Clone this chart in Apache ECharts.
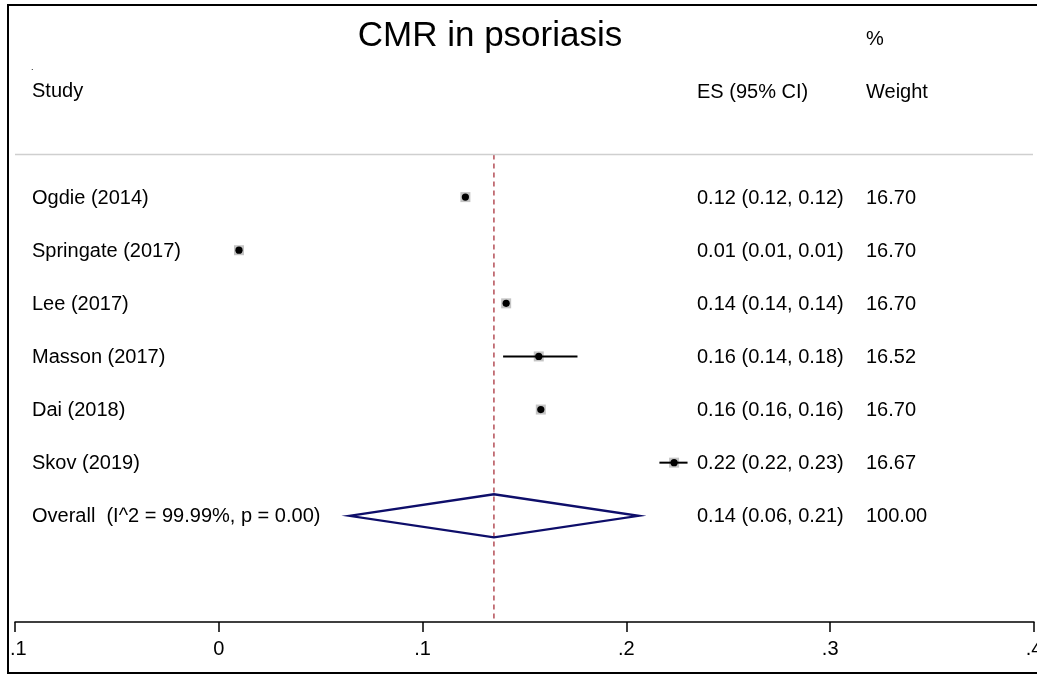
<!DOCTYPE html>
<html>
<head>
<meta charset="utf-8">
<script src="https://cdn.jsdelivr.net/npm/echarts@6/dist/echarts.min.js"></script>
<style>
  html, body { margin: 0; padding: 0; background: #fff; overflow: hidden; }
  #chart { width: 1037px; height: 675px; }
</style>
</head>
<body>
<div id="chart"></div>
<script>
// study rows
const studies = ['Ogdie (2014)', 'Springate (2017)', 'Lee (2017)', 'Masson (2017)', 'Dai (2018)', 'Skov (2019)']
const es = [0.121, 0.0099, 0.141, 0.157, 0.158, 0.2234]
const ciLow = [0.1205, 0.0094, 0.1405, 0.1395, 0.1575, 0.2162]
const ciHigh = [0.1215, 0.0104, 0.1415, 0.1760, 0.1585, 0.2300]
const esText = ['0.12 (0.12, 0.12)', '0.01 (0.01, 0.01)', '0.14 (0.14, 0.14)', '0.16 (0.14, 0.18)', '0.16 (0.16, 0.16)', '0.22 (0.22, 0.23)']
const weights = ['16.70', '16.70', '16.70', '16.52', '16.70', '16.67']

// pooled estimate
const overallLabel = 'Overall  (I^2 = 99.99%, p = 0.00)'
const overallES = 0.135
const overallLow = 0.064
const overallHigh = 0.206
const overallText = '0.14 (0.06, 0.21)'
const overallWeight = '100.00'

// x axis ticks
const xTicks = [-0.1, 0, 0.1, 0.2, 0.3, 0.4]

const FONT = "'Liberation Sans', Arial, sans-serif"
const chart = echarts.init(document.getElementById('chart'))

// row positions on the hidden y axis (1..6 studies, 7 overall)
const rowData = studies.map((s, i) => [es[i], i + 1, ciLow[i], ciHigh[i]])
const textRows = studies.map((s, i) => [i + 1]).concat([[7]])
const labelCol = studies.concat([overallLabel])
const esCol = esText.concat([overallText])
const wCol = weights.concat([overallWeight])

function fmtTick(v) {
  if (Math.abs(v) < 1e-9) return '0'
  const s = String(Math.round(v * 10) / 10)
  return s.replace('0.', '.')
}

chart.setOption({
  animation: false,
  grid: { left: 15, right: 3, top: 144, bottom: 53, outerBoundsMode: 'none', containLabel: false },
  xAxis: {
    type: 'value',
    min: xTicks[0],
    max: xTicks[xTicks.length - 1],
    interval: 0.1,
    splitLine: { show: false },
    axisLine: { show: true, onZero: false, lineStyle: { color: '#000', width: 1.5 } },
    axisTick: { show: true, length: 10, lineStyle: { color: '#000', width: 1.5 } },
    axisLabel: {
      margin: 17,
      color: '#000',
      fontSize: 20,
      fontFamily: FONT,
      showMinLabel: true,
      showMaxLabel: true,
      hideOverlap: false,
      formatter: v => fmtTick(v)
    }
  },
  yAxis: { type: 'value', min: 0, max: 9, inverse: true, show: false },
  graphic: [
    { type: 'text', x: 490, y: 36, style: { text: 'CMR in psoriasis', fontSize: 35, fontFamily: FONT, fill: '#000', align: 'center', verticalAlign: 'middle' } },
    { type: 'text', x: 866, y: 39, style: { text: '%', fontSize: 20, fontFamily: FONT, fill: '#000', verticalAlign: 'middle' } },
    { type: 'text', x: 31, y: 68, style: { text: '.', fontSize: 9, fontFamily: FONT, fill: '#000', verticalAlign: 'middle' } },
    { type: 'text', x: 32, y: 91, style: { text: 'Study', fontSize: 20, fontFamily: FONT, fill: '#000', verticalAlign: 'middle' } },
    { type: 'text', x: 697, y: 92, style: { text: 'ES (95% CI)', fontSize: 20, fontFamily: FONT, fill: '#000', verticalAlign: 'middle' } },
    { type: 'text', x: 866, y: 92, style: { text: 'Weight', fontSize: 20, fontFamily: FONT, fill: '#000', verticalAlign: 'middle' } },
    { type: 'rect', z: 100, shape: { x: 0, y: 0, width: 7, height: 675 }, style: { fill: '#fff' } },
    { type: 'rect', z: 101, shape: { x: 8, y: 5, width: 1040, height: 668 }, style: { fill: 'none', stroke: '#000', lineWidth: 2 } }
  ],
  series: [
    {
      // header separator
      type: 'line',
      data: [[-0.1, 0.2], [0.3995, 0.2]],
      symbol: 'none',
      lineStyle: { color: '#cfcfcf', width: 1.5 },
      silent: true
    },
    {
      // pooled estimate reference line
      type: 'line',
      data: [[overallES, 0.2], [overallES, 9]],
      symbol: 'none',
      lineStyle: { color: '#a8323c', width: 1.3, type: [5, 4] },
      silent: true,
      z: 1
    },
    {
      type: 'custom',
      data: rowData,
      renderItem: (params, api) => {
        const c = api.coord([api.value(0), api.value(1)])
        const a = api.coord([api.value(2), api.value(1)])
        const b = api.coord([api.value(3), api.value(1)])
        return {
          type: 'group',
          children: [
            { type: 'rect', shape: { x: c[0] - 5, y: c[1] - 5, width: 10, height: 10 }, style: { fill: '#c4c4c4' } },
            { type: 'line', shape: { x1: a[0], y1: a[1], x2: b[0], y2: b[1] }, style: { stroke: '#000', lineWidth: 2 } },
            { type: 'circle', shape: { cx: c[0], cy: c[1], r: 3.6 }, style: { fill: '#000' } }
          ]
        }
      },
      z: 3
    },
    {
      type: 'custom',
      data: [[overallES, 7, overallLow, overallHigh]],
      renderItem: (params, api) => {
        const row = api.value(1)
        const l = api.coord([api.value(2), row])
        const r = api.coord([api.value(3), row])
        const t = api.coord([api.value(0), row - 0.405])
        const btm = api.coord([api.value(0), row + 0.405])
        return {
          type: 'polygon',
          shape: { points: [l, t, r, btm] },
          style: { fill: 'none', stroke: '#0e0e6a', lineWidth: 2.3 }
        }
      },
      z: 3
    },
    {
      type: 'custom',
      data: textRows,
      renderItem: (params, api) => {
        const y = api.coord([0, api.value(0)])[1] + 1
        const i = params.dataIndex
        const st = { fontSize: 20, fontFamily: FONT, fill: '#000', verticalAlign: 'middle' }
        return {
          type: 'group',
          children: [
            { type: 'text', x: 32, y: y, style: Object.assign({ text: labelCol[i] }, st) },
            { type: 'text', x: 697, y: y, style: Object.assign({ text: esCol[i] }, st) },
            { type: 'text', x: 866, y: y, style: Object.assign({ text: wCol[i] }, st) }
          ]
        }
      },
      z: 4
    }
  ]
})
</script>
</body>
</html>
